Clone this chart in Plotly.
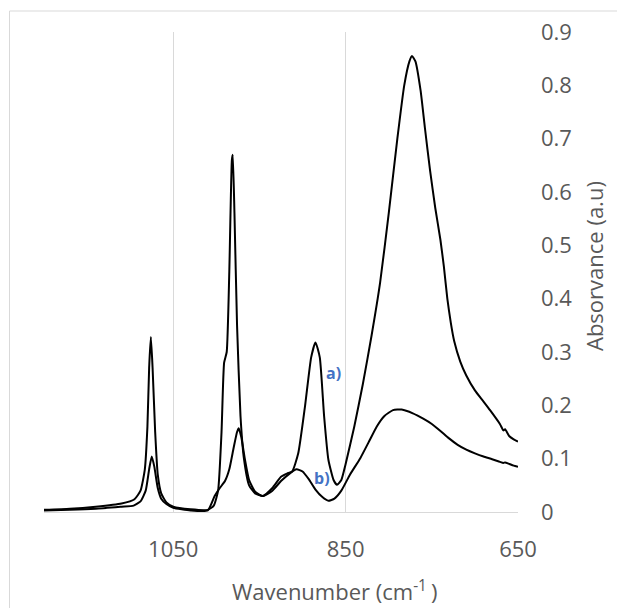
import plotly.graph_objects as go

# Series a) (upper curve)
wn_a = [1200, 1170, 1140, 1110, 1095, 1088, 1083, 1080, 1078, 1076, 1074, 1071, 1068, 1064, 1058,
        1050, 1030, 1010, 1003, 998, 994, 991, 988, 985, 982, 981, 979, 976, 972, 968, 962, 955,
        946, 935, 925, 918, 912, 905, 897, 890, 885, 880, 875, 870, 864, 860, 855, 850, 840, 830,
        820, 810, 800, 790, 782, 776, 773, 769, 763, 758, 752, 746, 740, 736, 732, 728, 724, 717,
        710, 700, 690, 682, 671, 667, 665, 660, 655, 650]
abs_a = [0.004, 0.006, 0.010, 0.016, 0.024, 0.040, 0.080, 0.160, 0.270, 0.328, 0.270, 0.150, 0.070,
         0.035, 0.018, 0.010, 0.005, 0.004, 0.012, 0.040, 0.150, 0.280, 0.300, 0.450, 0.660, 0.670,
         0.560, 0.350, 0.180, 0.100, 0.050, 0.035, 0.030, 0.045, 0.066, 0.072, 0.076, 0.110, 0.200,
         0.290, 0.318, 0.290, 0.180, 0.098, 0.060, 0.051, 0.060, 0.090, 0.160, 0.240, 0.330, 0.430,
         0.560, 0.700, 0.800, 0.845, 0.855, 0.845, 0.790, 0.720, 0.640, 0.570, 0.510, 0.460, 0.400,
         0.355, 0.320, 0.282, 0.256, 0.228, 0.207, 0.190, 0.165, 0.153, 0.155, 0.142, 0.136, 0.132]

# Series b) (lower curve)
wn_b = [1200, 1170, 1140, 1110, 1096, 1088, 1082, 1078, 1075, 1072, 1068, 1064, 1058, 1050, 1030,
        1010, 1002, 996, 990, 985, 980, 976, 974, 971, 967, 962, 955, 946, 935, 925, 915, 907, 900,
        893, 885, 877, 870, 863, 855, 845, 833, 822, 814, 805, 795, 785, 772, 760, 750, 740, 730,
        720, 710, 700, 690, 680, 671, 667, 665, 660, 655, 650]
abs_b = [0.003, 0.004, 0.006, 0.010, 0.012, 0.020, 0.040, 0.080, 0.104, 0.085, 0.045, 0.025, 0.015,
         0.008, 0.003, 0.003, 0.030, 0.045, 0.058, 0.080, 0.120, 0.150, 0.157, 0.140, 0.100, 0.060,
         0.038, 0.030, 0.040, 0.058, 0.072, 0.080, 0.076, 0.062, 0.042, 0.028, 0.021, 0.025, 0.040,
         0.070, 0.101, 0.135, 0.160, 0.180, 0.191, 0.192, 0.185, 0.175, 0.165, 0.152, 0.138, 0.126,
         0.117, 0.110, 0.104, 0.099, 0.094, 0.092, 0.093, 0.090, 0.087, 0.085]

x_ticks = [1050, 850, 650]
y_ticks = [0, 0.1, 0.2, 0.3, 0.4, 0.5, 0.6, 0.7, 0.8, 0.9]
y_tick_text = ["0", "0.1", "0.2", "0.3", "0.4", "0.5", "0.6", "0.7", "0.8", "0.9"]

label_a = ("a)", 864.6, 0.261)
label_b = ("b)", 877.4, 0.064)

x_title = "Wavenumber (cm<sup>-1 </sup>)"
y_title = "Absorvance (a.u)"

GRAY = "#595959"
FONT = "Open Sans"

# pixel helpers for paper positioning (plot area: x 44..518, y 32..512)
def px_x(px):
    return (px - 44) / 474

def px_y(py):
    return (512 - py) / 480

fig = go.Figure()
fig.add_trace(go.Scatter(x=wn_a, y=abs_a, mode="lines",
                         line=dict(color="black", width=2, shape="spline", smoothing=0.5),
                         showlegend=False, hoverinfo="skip"))
fig.add_trace(go.Scatter(x=wn_b, y=abs_b, mode="lines",
                         line=dict(color="black", width=2, shape="spline", smoothing=0.5),
                         showlegend=False, hoverinfo="skip"))

for txt, xx, yy in (label_a, label_b):
    fig.add_annotation(x=xx, y=yy, text="<b>" + txt + "</b>", showarrow=False,
                       font=dict(family=FONT, size=16, color="#4472C4"))

fig.add_annotation(xref="paper", yref="paper", x=px_x(334), y=px_y(590), text=x_title,
                   showarrow=False, xanchor="center", yanchor="middle",
                   font=dict(family=FONT, size=22, color=GRAY))
fig.add_annotation(xref="paper", yref="paper", x=px_x(594), y=px_y(266), text=y_title,
                   showarrow=False, textangle=-90, xanchor="center", yanchor="middle",
                   font=dict(family=FONT, size=22, color=GRAY))

fig.update_layout(
    width=617, height=608,
    margin=dict(l=44, r=99, t=32, b=96),
    paper_bgcolor="white", plot_bgcolor="white",
    font=dict(family=FONT, size=22, color=GRAY),
    xaxis=dict(range=[1200, 650], tickvals=x_ticks, ticktext=[str(v) for v in x_ticks],
               showgrid=True, gridcolor="#d9d9d9", gridwidth=1,
               showline=True, linecolor="#d9d9d9", linewidth=1, zeroline=False,
               ticks="", ticklabelstandoff=18),
    yaxis=dict(range=[0, 0.9], side="right", tickvals=y_ticks, ticktext=y_tick_text,
               showgrid=False, zeroline=False, showline=False, ticks="",
               ticklabelstandoff=22),
    shapes=[
        dict(type="line", xref="paper", yref="paper", x0=px_x(9.5), x1=px_x(640),
             y0=px_y(11), y1=px_y(11), line=dict(color="#d9d9d9", width=1)),
        dict(type="line", xref="paper", yref="paper", x0=px_x(9.5), x1=px_x(9.5),
             y0=px_y(11), y1=px_y(640), line=dict(color="#d9d9d9", width=1)),
    ],
)

fig.write_html("out.html")
